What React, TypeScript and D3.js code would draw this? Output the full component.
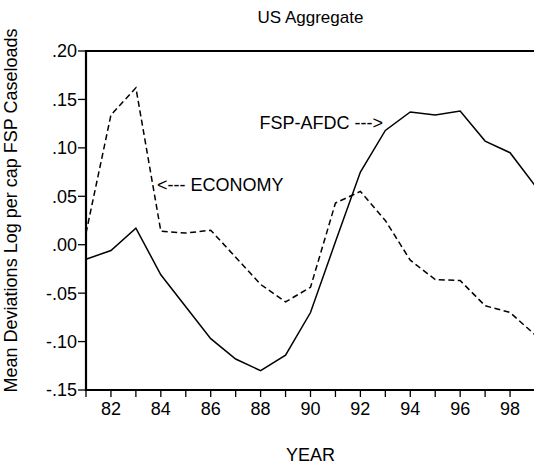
import React from "react";
import * as d3 from "d3";

const years = [81, 82, 83, 84, 85, 86, 87, 88, 89, 90, 91, 92, 93, 94, 95, 96, 97, 98, 99];
const fspAfdc = [-0.015, -0.006, 0.017, -0.031, -0.064, -0.097, -0.118, -0.130, -0.114, -0.070, 0.003, 0.075, 0.118, 0.137, 0.134, 0.138, 0.107, 0.095, 0.061];
const economy = [0.012, 0.134, 0.162, 0.014, 0.012, 0.015, -0.013, -0.041, -0.059, -0.044, 0.043, 0.055, 0.025, -0.016, -0.036, -0.037, -0.063, -0.070, -0.093];
const yTicks = [0.2, 0.15, 0.1, 0.05, 0.0, -0.05, -0.1, -0.15];
const yTickLabels = [".20", ".15", ".10", ".05", ".00", "-.05", "-.10", "-.15"];
const xLabelYears = [82, 84, 86, 88, 90, 92, 94, 96, 98];

const W = 534;
const H = 468;
const FONT = "'Liberation Sans', Arial, Helvetica, sans-serif";
const FS = 18;

export default function App() {
  const x = d3.scaleLinear().domain([81, 99]).range([86, 535]);
  const y = d3.scaleLinear().domain([-0.15, 0.2]).range([390, 51]);
  const line = d3
    .line<number>()
    .x((_, i) => x(years[i]))
    .y((d) => y(d));

  const left = x(81);
  const right = x(99);
  const top = y(0.2);
  const bottom = y(-0.15);

  return (
    <svg
      width={W}
      height={H}
      style={{ position: "absolute", left: 0, top: 0, display: "block", background: "#fff" }}
      fontFamily={FONT}
      fontSize={FS}
    >
      <rect x={0} y={0} width={W} height={H} fill="#fff" />
      <text x={(left + right) / 2} y={23} textAnchor="middle" fontSize={17}>
        US Aggregate
      </text>
      {/* frame */}
      <line x1={left} x2={right} y1={top} y2={top} stroke="#000" strokeWidth={2.2} />
      <line x1={left} x2={right} y1={bottom} y2={bottom} stroke="#000" strokeWidth={2.2} />
      <line x1={left} x2={left} y1={top - 1} y2={bottom + 1} stroke="#000" strokeWidth={2.2} />
      {/* y ticks */}
      {yTicks.map((t, i) => (
        <g key={"y" + i}>
          <line x1={left - 8} x2={left} y1={y(t)} y2={y(t)} stroke="#000" strokeWidth={1.3} />
          <text x={left - 9} y={y(t)} dy="0.36em" textAnchor="end">
            {yTickLabels[i]}
          </text>
        </g>
      ))}
      {/* x ticks */}
      {years.map((yr) => (
        <line key={"xt" + yr} x1={x(yr)} x2={x(yr)} y1={bottom} y2={bottom + 7} stroke="#000" strokeWidth={1.3} />
      ))}
      {xLabelYears.map((yr) => (
        <text key={"xl" + yr} x={x(yr)} y={415} textAnchor="middle">
          {String(yr)}
        </text>
      ))}
      <text x={(left + right) / 2} y={461} textAnchor="middle">
        YEAR
      </text>
      <text
        transform={`translate(17, ${(top + bottom) / 2 - 10}) rotate(-90)`}
        textAnchor="middle"
      >
        Mean Deviations Log per cap FSP Caseloads
      </text>
      {/* series */}
      <path d={line(fspAfdc) || ""} fill="none" stroke="#000" strokeWidth={1.5} />
      <path d={line(economy) || ""} fill="none" stroke="#000" strokeWidth={1.5} strokeDasharray="6,3.5" />
      {/* annotations */}
      <text x={157} y={185} dy="0.36em" textAnchor="start">
        {"<--- ECONOMY"}
      </text>
      <text x={383} y={123} dy="0.36em" textAnchor="end">
        {"FSP-AFDC --->"}
      </text>
    </svg>
  );
}
